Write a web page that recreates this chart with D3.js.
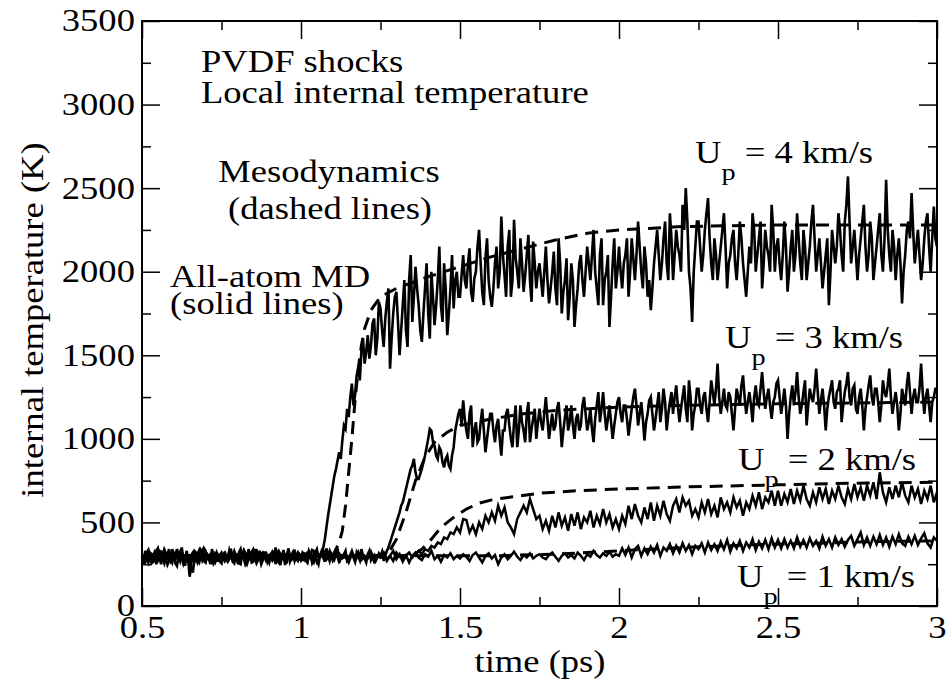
<!doctype html>
<html lang="en">
<head>
  <meta charset="utf-8">
  <title>PVDF shocks</title>
  <script src="https://cdn.jsdelivr.net/npm/d3@7"></script>
</head>
<body style="margin:0;background:#fff">
<style>
.chart .tick line {
  stroke: #000;
  stroke-width: 1.5;
}
</style>
<svg class="chart" width="946" height="685"></svg>
<script>
var serif = '"Liberation Serif", "Times New Roman", Times, serif';
var fontSize = 31, stretch = 1.18;   // the source lettering is a little wider than Times

// MD 4 and 3 km/s are sampled every 0.005 ps, MD 2 and 1 km/s every 0.01 ps (from 0.5 ps)
var md4 = [
  290,250, 330,280, 260,320, 310,265, 275,330, 345,290, 250,310, 300,260, 320,275, 265,340, 295,255, 240,300, 310,350, 285,245, 330,290, 270,225, 200,285, 305,260, 280,335, 320,270, 260,310, 295,250, 340,300, 275,320, 300,265,
  255,300, 315,275, 290,330, 335,280, 270,310, 300,255, 250,305, 325,285, 285,340, 310,260, 265,300, 340,290, 295,250, 275,320, 320,285, 260,300, 305,270, 350,310, 280,245, 300,335, 245,290, 315,265, 290,325, 330,280, 270,310,
  300,270, 320,285, 265,330, 310,260, 285,320, 340,295, 300,330, 350,400, 470,540, 600,660, 720,780, 820,870, 920,880, 990,1080, 1060,1180, 1130,1250, 1330,1200, 1260,1380, 1420,1350, 1530,1600, 1450,1520, 1620,1480, 1560,1690, 1720,1500, 1600,1820,
  1780,1650, 1550,1720, 1820,1900, 1420,1600, 1750,1850, 1880,1700, 1500,1650, 1800,1950, 1650,1550, 1950,2100, 1700,1850, 2030,1900, 1800,1650, 1580,1750, 1900,2050, 1750,1600, 2000,1850, 1680,1800, 1950,2150, 1800,1700, 2050,1900, 1620,1750, 1900,2100, 1780,1950, 2000,1850,
  1850,1980, 2100,1950, 1900,2050, 2140,1880, 1820,1960, 2000,2150, 2250,2050, 1880,1800, 2080,2200, 1950,1850, 1790,1900, 2050,2150, 1900,2000, 2330,2100, 1980,1850, 2150,2250, 1850,1950, 2310,2080, 2000,1900, 2200,2050, 1880,1980, 2100,2220, 1950,1820, 2180,2050, 1900,2000,
  2050,1950, 1850,2000, 2150,1950, 1810,1900, 2000,2120, 1900,1800, 2200,2050, 1750,1880, 1950,2080, 1710,1850, 2050,1950, 1670,1800, 1900,2050, 2100,1950, 1850,2000, 2150,2050, 1950,2100, 2250,2000, 1900,1800, 2100,2200, 1800,1950, 2000,2100, 1670,1850, 2050,2200, 1900,2000,
  2150,2000, 1900,2050, 2100,2200, 1850,2000, 2200,2080, 1950,2100, 2300,2150, 2000,1900, 2150,2050, 1850,1950, 1770,1900, 2050,2150, 2250,2100, 1950,2050, 2200,2300, 2050,1950, 2350,2200, 1950,2100, 2250,2150, 2100,2000, 2400,2250, 2500,2300, 2000,1900, 1700,2000, 2150,2300,
  2300,2150, 2000,2100, 2250,2350, 2440,2200, 2050,1950, 2200,2100, 1950,2050, 2150,2250, 2350,2150, 1900,2050, 2100,2200, 2250,2050, 1950,2100, 2300,2200, 2050,1950, 1850,2000, 2150,2050, 2350,2250, 2000,2100, 2200,2300, 1900,2050, 2250,2150, 2100,2000, 2400,2250, 2000,2150,
  2200,2050, 1950,2100, 2300,2150, 1880,2000, 2150,2250, 2000,2100, 2350,2200, 2050,1950, 2250,2150, 1950,2050, 2150,2300, 2400,2200, 2000,2100, 2200,2050, 1900,2000, 2100,2200, 1800,2000, 2250,2150, 2050,2150, 2350,2250, 2100,2000, 2300,2400, 2570,2300, 2050,2150, 2250,2100,
  1950,2100, 2200,2300, 2400,2150, 2000,2100, 2300,2200, 1950,2050, 2150,2250, 2350,2100, 2000,2200, 2550,2250, 2100,2000, 2250,2150, 1950,2100, 2200,2050, 1810,2000, 2100,2250, 2300,2200, 2470,2250, 2050,2150, 2250,2100, 1950,2050, 2200,2300, 2350,2150, 2000,2200, 2390,2200,
  2150
];
var md3 = [
  310,265, 280,320, 335,290, 265,305, 300,250, 290,330, 325,280, 255,300, 305,340, 280,260, 315,290, 340,300, 270,315, 295,240, 310,280, 175,260, 285,330, 320,275, 260,300, 300,345, 330,285, 275,310, 310,260, 285,320, 265,300,
  300,270, 325,295, 280,335, 310,265, 255,300, 295,320, 340,290, 285,250, 270,310, 315,285, 300,340, 260,295, 330,280, 290,315, 310,260, 275,300, 305,330, 250,285, 320,270, 295,310, 280,255, 345,300, 300,320, 270,295, 315,280,
  285,320, 310,270, 260,300, 300,335, 330,285, 275,250, 305,320, 290,265, 345,300, 270,315, 300,280, 315,345, 260,290, 295,310, 330,270, 280,305, 310,290, 265,320, 300,275, 340,300, 285,260, 310,330, 275,295, 305,270, 290,315,
  300,325, 270,300, 330,350, 380,410, 440,470, 500,530, 560,600, 620,660, 700,740, 780,820, 840,880, 800,760, 760,790, 820,860, 900,950, 1000,1060, 1050,980, 960,900, 880,950, 930,860, 830,880, 900,840, 820,900, 950,1050, 1100,1150,
  1180,1080, 1230,1120, 1050,1000, 1150,1200, 950,1050, 1100,980, 1000,1100, 1180,1050, 920,1000, 1080,1150, 1150,1050, 980,1080, 1120,1000, 900,1050, 1050,1150, 1180,1080, 1000,950, 1100,1200, 950,1050, 1200,1100, 1050,980, 1150,1220, 980,1060, 1120,1180, 1000,1100,
  1180,1100, 1050,1150, 1250,1120, 1000,1080, 1150,1050, 1080,1180, 1220,1100, 950,1050, 1130,1200, 1050,1100, 1200,1080, 1000,1120, 1150,1050, 1080,1200, 1250,1150, 1050,1100, 1180,1060, 980,1120, 1200,1280, 1100,1180, 1280,1150, 1050,1120, 1200,1100, 1000,1080, 1150,1220,
  1250,1150, 1100,1200, 1200,1120, 1020,1100, 1180,1250, 1300,1200, 1080,1150, 1220,1120, 990,1100, 1150,1230, 1250,1150, 1050,1120, 1200,1280, 1100,1180, 1300,1220, 1050,1150, 1220,1280, 1150,1250, 1320,1200, 1100,1180, 1250,1320, 1180,1100, 1350,1250, 1050,1150, 1200,1300,
  1300,1200, 1150,1250, 1280,1180, 1100,1220, 1350,1280, 1200,1300, 1450,1250, 1150,1220, 1300,1200, 1180,1280, 1250,1150, 1050,1180, 1300,1250, 1200,1320, 1380,1250, 1150,1220, 1280,1200, 1100,1250, 1320,1220, 1200,1300, 1400,1280, 1180,1250, 1300,1200, 1120,1220, 1250,1330,
  1350,1250, 1150,1220, 1300,1200, 1000,1150, 1250,1320, 1200,1280, 1400,1250, 1150,1200, 1280,1350, 1080,1200, 1300,1250, 1220,1300, 1420,1280, 1150,1230, 1300,1200, 1050,1180, 1250,1300, 1350,1220, 1180,1280, 1300,1350, 1100,1200, 1280,1330, 1400,1250, 1200,1300, 1320,1180,
  1150,1250, 1300,1200, 1050,1180, 1250,1320, 1380,1250, 1200,1300, 1300,1220, 1100,1200, 1350,1280, 1250,1320, 1420,1250, 1150,1220, 1280,1200, 1050,1150, 1300,1250, 1200,1320, 1400,1280, 1150,1250, 1300,1220, 1220,1300, 1450,1280, 1150,1250, 1300,1200, 1100,1220, 1250,1300,
  1300
];
var md2 = [
  275, 305, 320, 260, 290, 315, 280, 340, 295, 265, 310, 285, 325, 250, 300, 290, 320, 270, 305, 335, 280, 300, 260, 315, 290,
  320, 270, 300, 285, 330, 265, 310, 295, 250, 305, 340, 280, 300, 315, 270, 295, 325, 285, 260, 310, 300, 330, 275, 290, 305,
  270, 300, 320, 285, 310, 260, 295, 335, 280, 305, 290, 320, 265, 300, 310, 285, 330, 270, 300, 315, 280, 295, 325, 270, 300,
  290, 320, 270, 300, 330, 280, 310, 265, 300, 320, 290, 310, 330, 310, 340, 330, 360, 350, 380, 370, 410, 400, 440, 430, 470,
  440, 520, 515, 440, 480, 430, 500, 460, 540, 500, 560, 510, 600, 540, 590, 500, 470, 430, 520, 560, 600, 560, 640, 580, 520,
  540, 460, 510, 450, 540, 470, 560, 480, 530, 450, 550, 480, 560, 460, 530, 500, 570, 470, 540, 490, 580, 500, 550, 470, 520,
  460, 540, 490, 600, 520, 610, 540, 500, 590, 520, 620, 510, 600, 540, 630, 550, 510, 600, 640, 560, 650, 600, 630, 540, 580,
  530, 620, 560, 640, 550, 600, 530, 650, 580, 620, 560, 650, 590, 630, 540, 620, 580, 660, 600, 680, 580, 650, 620, 690, 600,
  690, 600, 670, 620, 700, 610, 690, 630, 720, 640, 600, 680, 620, 710, 640, 700, 610, 690, 640, 720, 650, 610, 700, 640, 730,
  650, 710, 630, 720, 660, 740, 640, 800, 680, 620, 710, 640, 720, 650, 740, 660, 620, 720, 650, 700, 610, 690, 640, 720, 620,
  680
];
var md1 = [
  295, 260, 310, 285, 325, 270, 300, 315, 245, 290, 305, 330, 275, 300, 285, 255, 310, 290, 335, 270, 305, 285, 320, 260, 300,
  285, 310, 265, 300, 320, 290, 270, 335, 300, 280, 310, 255, 295, 320, 285, 305, 270, 300, 330, 290, 265, 310, 295, 280, 320,
  300, 275, 310, 290, 260, 320, 295, 305, 280, 330, 270, 300, 315, 285, 295, 260, 310, 290, 325, 275, 300, 285, 310, 265, 300,
  290, 315, 280, 300, 270, 320, 295, 285, 305, 260, 300, 320, 290, 275, 310, 295, 330, 280, 300, 265, 305, 290, 315, 280, 300,
  285, 310, 295, 270, 305, 320, 290, 260, 300, 315, 285, 305, 250, 290, 310, 280, 300, 325, 295, 275, 305, 290, 315, 285, 300,
  310, 290, 280, 305, 320, 295, 270, 300, 315, 290, 305, 285, 320, 300, 275, 310, 295, 330, 305, 290, 315, 300, 325, 295, 310,
  300, 345, 305, 350, 290, 340, 360, 300, 345, 310, 355, 320, 365, 300, 350, 330, 370, 315, 360, 320, 375, 330, 365, 310, 360,
  340, 375, 320, 380, 335, 370, 330, 385, 340, 395, 325, 375, 345, 390, 330, 380, 350, 400, 335, 385, 345, 395, 340, 405, 350,
  395, 345, 400, 350, 390, 345, 410, 355, 395, 350, 405, 360, 390, 345, 415, 360, 400, 350, 410, 365, 400, 355, 395, 420, 360,
  400, 440, 365, 410, 360, 415, 370, 425, 365, 410, 355, 415, 370, 430, 375, 360, 415, 370, 420, 365, 405, 435, 375, 350, 410,
  390
];

// mesodynamics, dashed lines (time in ps, temperature in K)
var meso4T = [0.5, 1.10, 1.12, 1.13, 1.14, 1.15, 1.16, 1.17, 1.18, 1.19, 1.20, 1.22, 1.25, 1.30, 1.40, 1.50, 1.60, 1.70, 1.80, 1.90, 2.00, 2.20, 2.50, 3.00];
var meso4V = [300, 300, 380, 450, 600, 800, 1000, 1230, 1420, 1560, 1660, 1770, 1850, 1900, 1970, 2030, 2090, 2140, 2190, 2230, 2250, 2270, 2280, 2280];
var meso3T = [0.5, 1.27, 1.30, 1.33, 1.36, 1.39, 1.42, 1.46, 1.50, 1.60, 1.70, 1.80, 2.00, 2.20, 2.50, 3.00];
var meso3V = [300, 300, 400, 560, 750, 890, 980, 1040, 1080, 1120, 1150, 1170, 1190, 1200, 1210, 1220];
var meso2T = [0.5, 1.35, 1.38, 1.41, 1.44, 1.48, 1.52, 1.56, 1.60, 1.66, 1.75, 1.87, 2.00, 2.20, 2.50, 2.75, 3.00];
var meso2V = [300, 300, 340, 400, 470, 530, 580, 615, 635, 652, 675, 690, 700, 712, 725, 735, 740];
var meso1T = [0.5, 1.60, 1.80, 2.00, 2.20, 2.40, 2.60, 2.80, 3.00];
var meso1V = [300, 300, 310, 330, 350, 365, 375, 385, 390];

var xMajor = [0.5, 1, 1.5, 2, 2.5, 3];
var xMinor = [0.75, 1.25, 1.75, 2.25, 2.75];
var yMajor = [0, 500, 1000, 1500, 2000, 2500, 3000, 3500];
var yMinor = [250, 750, 1250, 1750, 2250, 2750, 3250];

var svg = d3.select(".chart");
var x = d3.scaleLinear().domain([0.5, 3]).range([142, 937]);
var y = d3.scaleLinear().domain([0, 3500]).range([606, 21]);

function mdPoints(arr, step) {
  return arr.map(function(v, i) { return [0.5 + i * step, v]; });
}
function mesoPoints(ts, vs) {
  return ts.map(function(t, i) { return [t, vs[i]]; });
}

var line = d3.line()
  .x(function(d) { return x(d[0]); })
  .y(function(d) { return y(d[1]); });

var plot = svg.append("g");
[[md1, 0.01, 2.5], [md2, 0.01, 2.5], [md3, 0.005, 2.6], [md4, 0.005, 2.6]].forEach(function(s) {
  plot.append("path")
    .attr("d", line(mdPoints(s[0], s[1])))
    .attr("fill", "none")
    .attr("stroke", "#000")
    .attr("stroke-width", s[2]);
});
[[meso1T, meso1V], [meso2T, meso2V], [meso3T, meso3V], [meso4T, meso4V]].forEach(function(s) {
  plot.append("path")
    .attr("d", line(mesoPoints(s[0], s[1])))
    .attr("fill", "none")
    .attr("stroke", "#000")
    .attr("stroke-width", 3)
    .attr("stroke-dasharray", "13,8");
});

// axes, ticks pointing inward on all four sides
function styleAxis(g) {
  g.select(".domain").remove();
  g.selectAll("text")
    .attr("font-size", fontSize)
    .style("font-family", serif)
    .attr("fill", "#000")
    .attr("transform", "scale(" + stretch + ",1)");
}
svg.append("g").attr("transform", "translate(0,606)")
  .call(d3.axisBottom(x).tickValues(xMajor).tickSize(-18).tickPadding(10).tickFormat(d3.format("")))
  .call(styleAxis);
svg.append("g").attr("transform", "translate(0,606)")
  .call(d3.axisBottom(x).tickValues(xMinor).tickSize(-9).tickFormat(""))
  .call(styleAxis);
svg.append("g").attr("transform", "translate(0,21)")
  .call(d3.axisTop(x).tickValues(xMajor).tickSize(-18).tickFormat(""))
  .call(styleAxis);
svg.append("g").attr("transform", "translate(0,21)")
  .call(d3.axisTop(x).tickValues(xMinor).tickSize(-9).tickFormat(""))
  .call(styleAxis);
svg.append("g").attr("transform", "translate(142,0)")
  .call(d3.axisLeft(y).tickValues(yMajor).tickSize(-18).tickPadding(6).tickFormat(d3.format("")))
  .call(styleAxis);
svg.append("g").attr("transform", "translate(142,0)")
  .call(d3.axisLeft(y).tickValues(yMinor).tickSize(-9).tickFormat(""))
  .call(styleAxis);
svg.append("g").attr("transform", "translate(937,0)")
  .call(d3.axisRight(y).tickValues(yMajor).tickSize(-18).tickFormat(""))
  .call(styleAxis);
svg.append("g").attr("transform", "translate(937,0)")
  .call(d3.axisRight(y).tickValues(yMinor).tickSize(-9).tickFormat(""))
  .call(styleAxis);

svg.append("rect")
  .attr("x", 142).attr("y", 21)
  .attr("width", 795).attr("height", 585)
  .attr("fill", "none")
  .attr("stroke", "#000")
  .attr("stroke-width", 2);

// every label is drawn at the origin of a translated, widened group
function label(px, py, anchor, rotate) {
  var tr = "translate(" + px + "," + py + ")" + (rotate ? " rotate(" + rotate + ")" : "") + " scale(" + stretch + ",1)";
  return svg.append("g").attr("transform", tr)
    .append("text")
    .attr("text-anchor", anchor)
    .attr("font-size", fontSize)
    .attr("fill", "#000")
    .style("font-family", serif);
}

label(540, 672, "middle").text("time (ps)");
label(43, 320, "middle", -90).text("internal temperature (K)");

var notes = [
  {text: "PVDF shocks", x: 201, y: 72, anchor: "start"},
  {text: "Local internal temperature", x: 201, y: 103, anchor: "start"},
  {text: "Mesodynamics", x: 329, y: 182, anchor: "middle"},
  {text: "(dashed lines)", x: 330, y: 219, anchor: "middle"},
  {text: "All-atom MD", x: 170, y: 287, anchor: "start"},
  {text: "(solid lines)", x: 170, y: 314, anchor: "start"}
];
notes.forEach(function(n) {
  label(n.x, n.y, n.anchor).text(n.text);
});

var upLabels = [
  {v: 4, x: 695, y: 163},
  {v: 3, x: 725, y: 348},
  {v: 2, x: 738, y: 470},
  {v: 1, x: 737, y: 587}
];
upLabels.forEach(function(u) {
  var t = label(u.x, u.y, "start");
  t.append("tspan").text("U");
  t.append("tspan").attr("dy", 17).attr("font-size", 24).text("p");
  t.append("tspan").attr("dy", -17).text(" = " + u.v + " km/s");
});
</script>
</body>
</html>
